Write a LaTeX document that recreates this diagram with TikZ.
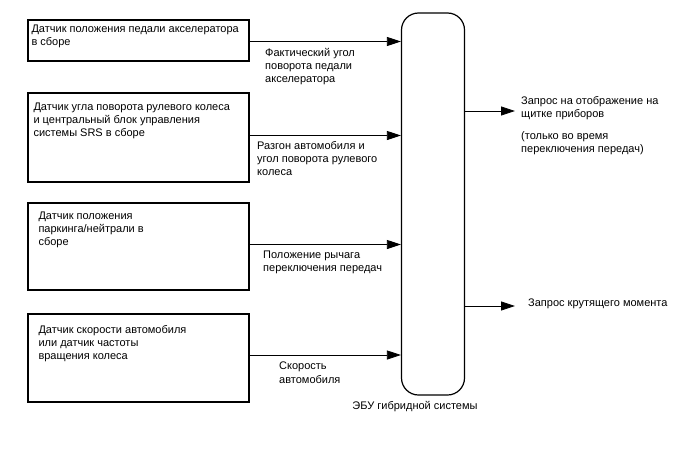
\documentclass[tikz,border=0pt]{standalone}
\usepackage{fontspec}
\setmainfont{Liberation Sans}
\usepackage{tikz}
\usetikzlibrary{calc}
\usetikzlibrary{positioning}
\usetikzlibrary{arrows.meta}
\tikzset{
	sensor/.style={
		draw,
		line width=1.4pt,
		minimum width=221pt,
		inner sep=0pt,
	},
	ecubox/.style={
		draw,
		line width=1.2pt,
		rounded corners=17pt,
		minimum width=63pt,
		minimum height=382pt,
		inner sep=0pt,
	},
	txt/.style={
		anchor=north west,
		align=left,
		inner sep=0pt,
		font=\fontsize{11}{13.2}\selectfont,
	},
	sig/.style={
		line width=0.8pt,
		-{Triangle[length=14pt,width=9pt]},
	},
}

\begin{document}
\begin{tikzpicture}[x=1pt,y=-1pt]
			\useasboundingbox (0,0) rectangle (688,463);
			
			% Sensors
			\node[sensor, minimum height=41pt] (s1) at (138.5,40.5) {};
			\node[sensor, minimum height=89pt] (s2) at (138.5,137.5) {};
			\node[sensor, minimum height=87pt] (s3) at (138.5,246.5) {};
			\node[sensor, minimum height=88pt] (s4) at (138.5,358) {};
			\node[txt] (t1) at ([shift={(4,5)}]s1.north west) {Датчик положения педали акселератора\\в сборе};
			\node[txt] (t2) at ([shift={(6,10)}]s2.north west) {Датчик угла поворота рулевого колеса\\и центральный блок управления\\системы SRS в сборе};
			\node[txt] (t3) at ([shift={(11,9)}]s3.north west) {Датчик положения\\паркинга/нейтрали в\\сборе};
			\node[txt] (t4) at ([shift={(11,12)}]s4.north west) {Датчик скорости автомобиля\\или датчик частоты\\вращения колеса};
			
			% ECU
			\node[ecubox] (ecu) at (433,204) {};
			\node[txt, anchor=north] (tecu) at (415,401) {ЭБУ гибридной системы};
			
			% Draw arrows from sensors to ecu
			\draw[sig] ($(s1.east)+(0,1)$) -- ($(s1.east -| ecu.west)+(0,1)$);
			\draw[sig] ($(s2.east)+(0,-2)$) -- ($(s2.east -| ecu.west)+(0,-2)$);
			\draw[sig] ($(s3.east)+(0,-2)$) -- ($(s3.east -| ecu.west)+(0,-2)$);
			\draw[sig] ($(s4.east)+(0,-3)$) -- ($(s4.east -| ecu.west)+(0,-3)$);
			\node[txt] (l1) at (265,48) {Фактический угол\\поворота педали\\акселератора};
			\node[txt] (l2) at (257,141) {Разгон автомобиля и\\угол поворота рулевого\\колеса};
			\node[txt] (l3) at (263,251) {Положение рычага\\переключения передач};
			\node[txt] (l4) at (279,362) {Скорость\\автомобиля};
			
			% Draw arrows from ecu to outputs
			\coordinate (o1) at (515,111);
			\coordinate (o2) at (515,306);
			\draw[sig] (ecu.east |- o1) -- (o1);
			\draw[sig] (ecu.east |- o2) -- (o2);
			\node[txt] (r1) at (521,96) {Запрос на отображение на\\щитке приборов};
			\node[txt] (r1b) at (521,131) {(только во время\\переключения передач)};
			\node[txt] (r2) at (528,299) {Запрос крутящего момента};
		\end{tikzpicture}
\end{document}
